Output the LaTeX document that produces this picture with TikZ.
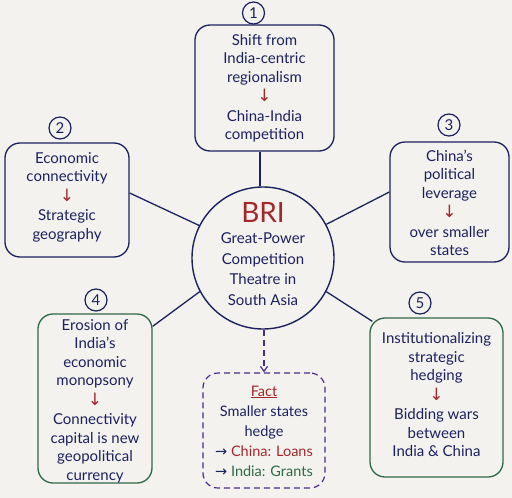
\documentclass[tikz,border=0pt]{standalone}
\usepackage{fontspec}
\setmainfont{Lato}
\newfontfamily\dvfont{DejaVu Sans}
\usetikzlibrary{arrows.meta}
\definecolor{navy}{HTML}{1C2160}
\definecolor{redd}{HTML}{A3272B}
\definecolor{grn}{HTML}{2D6A45}
\definecolor{purp}{HTML}{4A2B8C}
\definecolor{bg}{HTML}{F4F2EE}
\newcommand{\dn}{{\color{redd}\dvfont\fontsize{17}{17}\selectfont ↓}}
\newcommand{\ra}{\textcolor{navy}{\dvfont →}}
\tikzset{
  box/.style={draw=navy, line width=1.3pt, rounded corners=15pt, align=center, text=navy, inner sep=2pt},
  gbox/.style={box, draw=grn},
  num/.style={draw=navy, circle, line width=1.2pt, minimum size=22pt, inner sep=0pt, text=navy, font=\fontsize{15}{15}\selectfont},
  link/.style={draw=navy, line width=1.3pt},
  txt/.style={font=\fontsize{15}{18.5}\selectfont}
}
\begin{document}
\begin{tikzpicture}[x=1pt,y=-1pt]
\fill[bg] (0,0) rectangle (512,498);
\useasboundingbox (0,0) rectangle (512,498);
% hub
\node[draw=navy, line width=1.4pt, circle, minimum size=142pt, inner sep=0pt] (hub) at (263,258) {};
\node[text=redd, font=\fontsize{28}{28}\selectfont] (bri) at (263,212) {BRI};
\node[txt, text=navy, align=center, font=\fontsize{15}{20.5}\selectfont] (hubt) at (263,269) {Great-Power\\Competition\\Theatre in\\South Asia};
% box 1
\node[box, minimum width=139pt, minimum height=126pt] (b1) at (264.5,88) {};
\node[txt, text=navy, align=center] (t1) at (264.5,88.5) {Shift from\\India-centric\\regionalism\\[1pt]\dn\\[1pt]China-India\\competition};
\node[num] (n1) at (253.5,13) {1};
% box 2
\node[box, minimum width=124pt, minimum height=114pt] (b2) at (67,200) {};
\node[txt, text=navy, align=center] (t2) at (67,197) {Economic\\connectivity\\[1pt]\dn\\[1pt]Strategic\\geography};
\node[num] (n2) at (60,128) {2};
% box 3
\node[box, minimum width=119pt, minimum height=120pt] (b3) at (449.5,202) {};
\node[txt, text=navy, align=center] (t3) at (449.5,203) {China's\\political\\leverage\\[1pt]\dn\\[1pt]over smaller\\states};
\node[num] (n3) at (449,125) {3};
% box 4
\node[gbox, minimum width=114pt, minimum height=169pt] (b4) at (95,398.5) {};
\node[txt, text=navy, align=center] (t4) at (95,401) {Erosion of\\India's\\economic\\monopsony\\[1pt]\dn\\[1pt]Connectivity\\capital is new\\geopolitical\\currency};
\node[num] (n4) at (96,300) {4};
% box 5
\node[gbox, minimum width=133pt, minimum height=159pt] (b5) at (436.5,397.5) {};
\node[txt, text=navy, align=center] (t5) at (436.5,395) {Institutionalizing\\strategic\\hedging\\[1pt]\dn\\[1pt]Bidding wars\\between\\India \& China};
\node[num] (n5) at (420,303) {5};
% fact box
\node[draw=purp, dashed, dash pattern=on 6pt off 4pt, line width=1.2pt, rounded corners=15pt, minimum width=122pt, minimum height=115pt] (fact) at (264,430.5) {};
\node[txt, align=center, font=\fontsize{14.5}{19.5}\selectfont] (tf) at (264,431) {\textcolor{redd}{\underline{Fact}}\\[1pt]\textcolor{navy}{Smaller states}\\\textcolor{navy}{hedge}\\[1pt]\textcolor{redd}{\ra\ China: Loans}\\\textcolor{grn}{\ra\ India: Grants}};
% connectors
\draw[link] (b1.south -| 260,0) -- (hub.north -| 260,0);
\draw[link] ([yshift=7pt]b2.east) -- (hub.153);
\draw[link] ([yshift=10pt]b3.west) -- (hub.28);
\draw[link] ([yshift=-13pt]b4.north east) -- (hub.208);
\draw[link] ([xshift=3pt,yshift=-4pt]b5.north west) -- (hub.-28);
\draw[draw=purp, line width=1.2pt, dashed, dash pattern=on 6pt off 4pt, -{Straight Barb[length=5pt,width=7pt]}] (hub.south -| fact.north) -- (fact.north);
\end{tikzpicture}
\end{document}
